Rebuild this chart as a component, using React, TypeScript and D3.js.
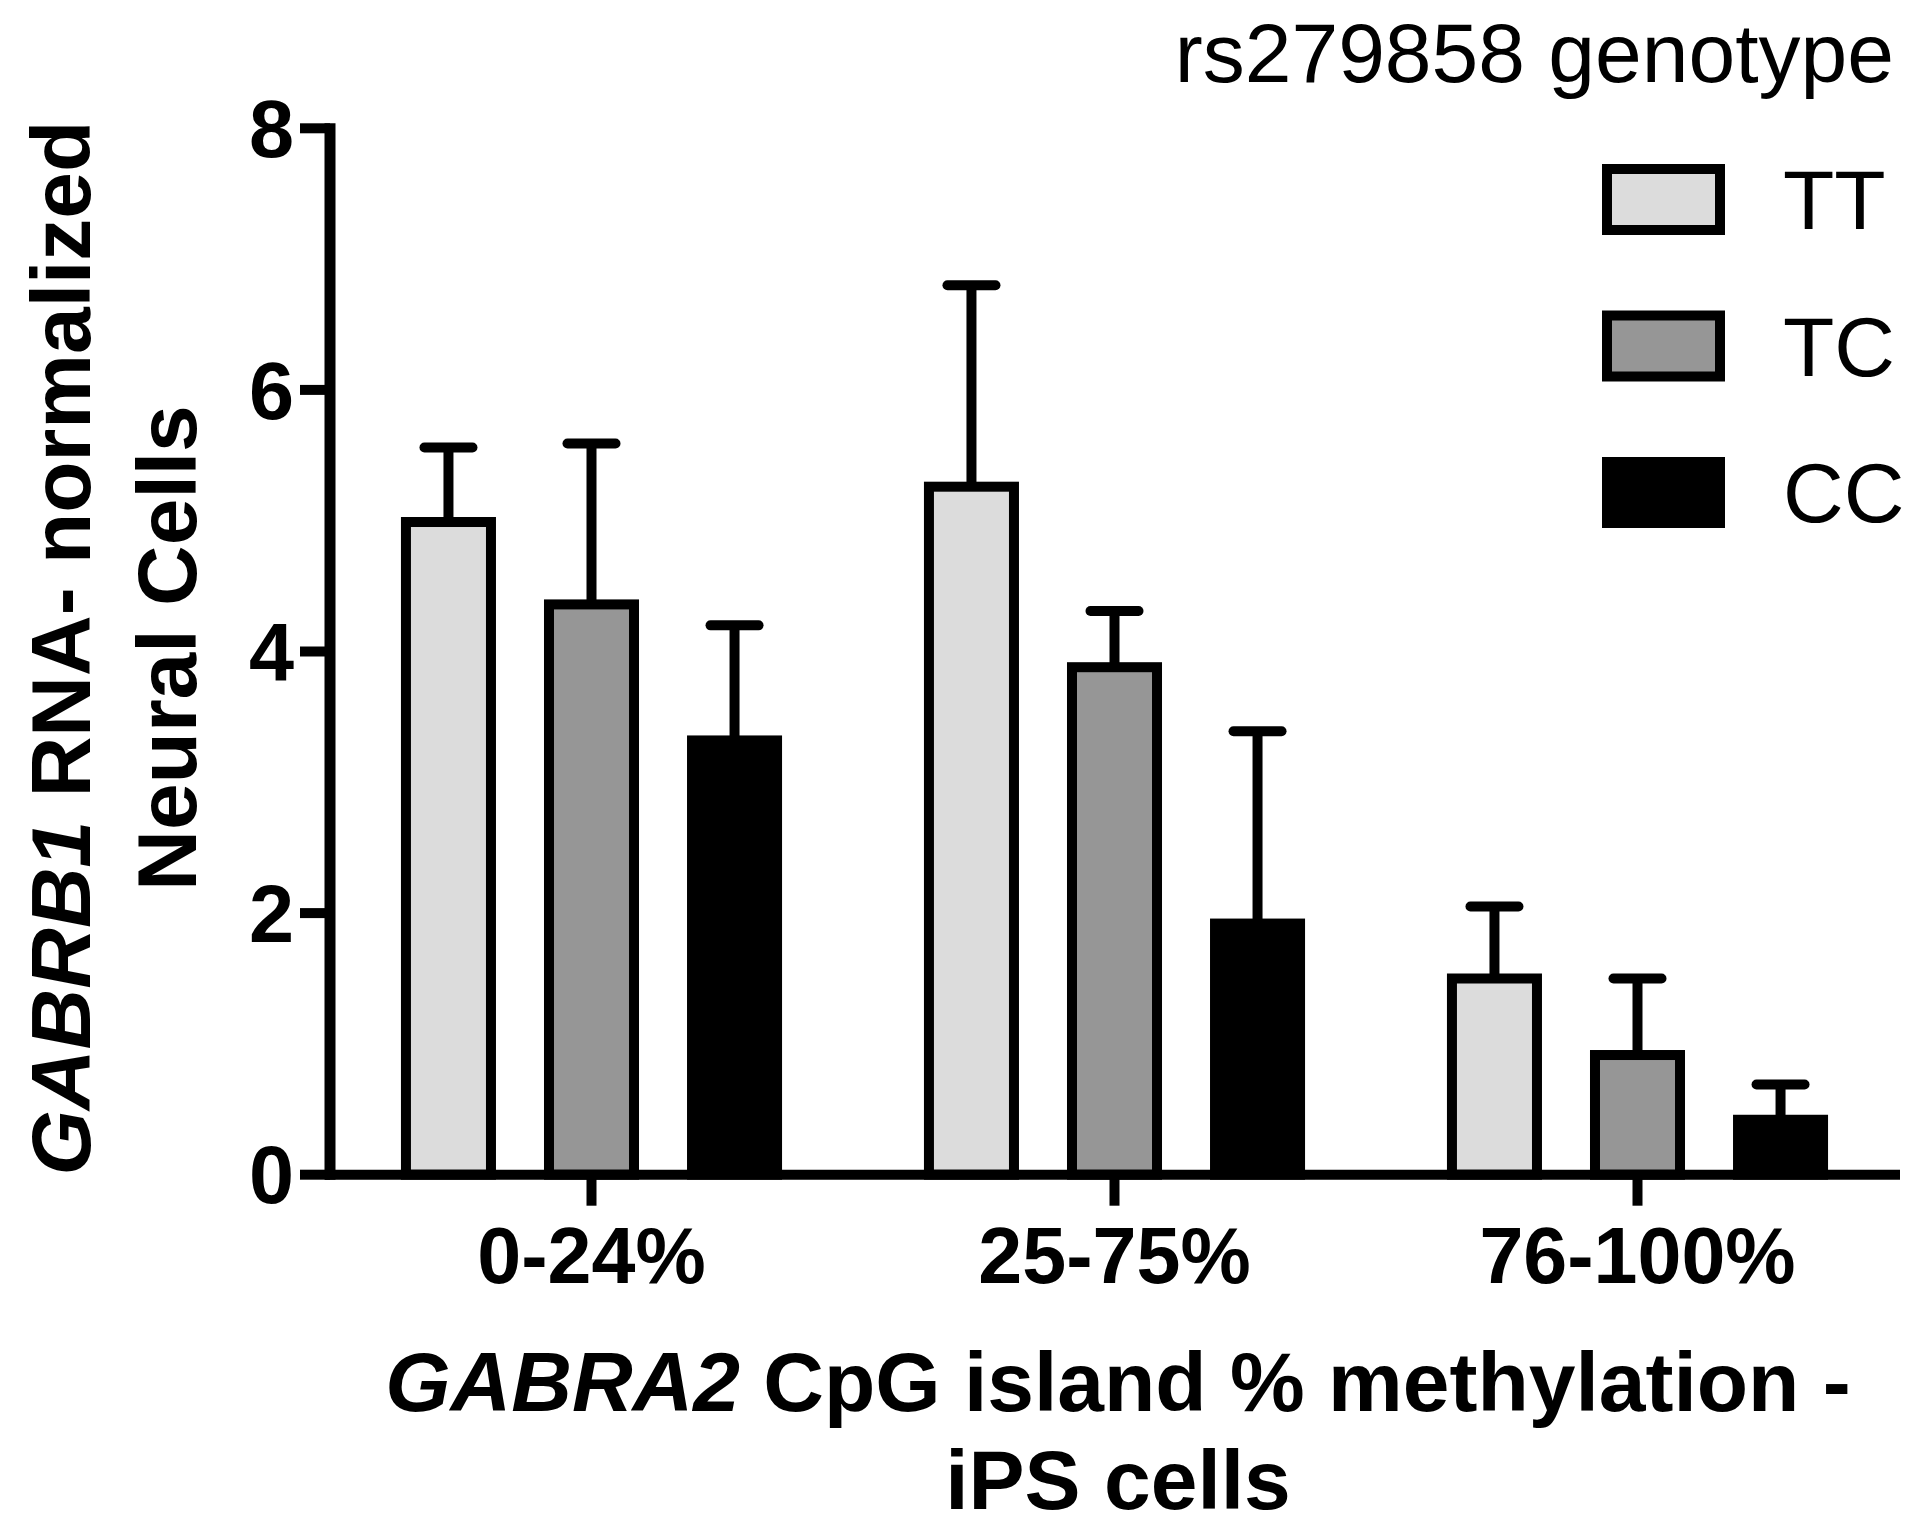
import React from "react";
import * as d3 from "d3";

const categories = ["0-24%", "25-75%", "76-100%"];
const series = ["TT", "TC", "CC"];
const meanTT = [4.99, 5.26, 1.5];
const meanTC = [4.36, 3.88, 0.915];
const meanCC = [3.32, 1.92, 0.42];
const semTT = [0.57, 1.54, 0.55];
const semTC = [1.23, 0.43, 0.585];
const semCC = [0.88, 1.47, 0.27];
const yTicks = [0, 2, 4, 6, 8];
const fills: Record<string, string> = { TT: "#dcdcdc", TC: "#969696", CC: "#000000" };

const W = 1920;
const H = 1526;
const FONT = "'Liberation Sans', Arial, Helvetica, sans-serif";
const SW = 10;

export default function App() {
  const x = d3.scaleBand<string>().domain(categories).range([330, 1899]).padding(0);
  const xs = d3
    .scaleBand<string>()
    .domain(series)
    .range([0, x.bandwidth()])
    .paddingInner(1 - 85 / 143)
    .paddingOuter(0.531);
  const y = d3.scaleLinear().domain([0, 8]).range([1174.7, 128.3]);

  const means: Record<string, number[]> = { TT: meanTT, TC: meanTC, CC: meanCC };
  const sems: Record<string, number[]> = { TT: semTT, TC: semTC, CC: semCC };

  const y0 = y(0);

  return (
    <svg
      width={W}
      height={H}
      viewBox={`0 0 ${W} ${H}`}
      style={{ position: "absolute", left: 0, top: 0, background: "#fff" }}
      fontFamily={FONT}
    >
      <rect x={0} y={0} width={W} height={H} fill="#fff" />
      {/* bars */}
      {categories.map((c, ci) => (
        <g key={c}>
          {series.map((s) => {
            const v = means[s][ci];
            const e = sems[s][ci];
            const bx = (x(c) as number) + (xs(s) as number);
            const bw = xs.bandwidth();
            const cx = bx + bw / 2;
            return (
              <g key={s}>
                <line x1={cx} x2={cx} y1={y(v)} y2={y(v + e)} stroke="#000" strokeWidth={SW} />
                <line
                  x1={cx - 24}
                  x2={cx + 24}
                  y1={y(v + e)}
                  y2={y(v + e)}
                  stroke="#000"
                  strokeWidth={SW}
                  strokeLinecap="round"
                />
                <rect
                  x={bx}
                  y={y(v)}
                  width={bw}
                  height={y0 - y(v)}
                  fill={fills[s]}
                  stroke="#000"
                  strokeWidth={SW}
                />
              </g>
            );
          })}
        </g>
      ))}
      {/* y axis */}
      <line x1={330} x2={330} y1={y(8) - SW / 2} y2={y0 + SW / 2} stroke="#000" strokeWidth={SW + 1} />
      {yTicks.map((t) => (
        <g key={t}>
          <line x1={300} x2={330} y1={y(t)} y2={y(t)} stroke="#000" strokeWidth={SW} />
          <text
            x={294}
            y={y(t)}
            dy="0.355em"
            textAnchor="end"
            fontSize={81}
            fontWeight="bold"
          >
            {t}
          </text>
        </g>
      ))}
      {/* x axis */}
      <line x1={325} x2={1900} y1={y0} y2={y0} stroke="#000" strokeWidth={SW} />
      {categories.map((c) => {
        const cx = (x(c) as number) + x.bandwidth() / 2;
        return (
          <g key={c}>
            <line x1={cx} x2={cx} y1={y0} y2={y0 + 31} stroke="#000" strokeWidth={SW} />
            <text x={cx} y={1283} textAnchor="middle" fontSize={79} fontWeight="bold">
              {c}
            </text>
          </g>
        );
      })}
      {/* y title */}
      <g transform="translate(90,648) rotate(-90)">
        <text x={0} y={0} textAnchor="middle" fontSize={84} fontWeight="bold">
          <tspan fontStyle="italic">GABRB1</tspan>
          <tspan> RNA- normalized</tspan>
        </text>
      </g>
      <g transform="translate(196,648) rotate(-90)">
        <text x={0} y={0} textAnchor="middle" fontSize={84} fontWeight="bold">
          Neural Cells
        </text>
      </g>
      {/* x title */}
      <text x={1118} y={1411} textAnchor="middle" fontSize={84} fontWeight="bold">
        <tspan fontStyle="italic">GABRA2</tspan>
        <tspan> CpG island % methylation -</tspan>
      </text>
      <text x={1118} y={1509} textAnchor="middle" fontSize={84} fontWeight="bold">
        iPS cells
      </text>
      {/* legend */}
      <text x={1894} y={82} textAnchor="end" fontSize={84}>
        rs279858 genotype
      </text>
      {series.map((s, i) => {
        const ly = 169 + i * 146.5;
        return (
          <g key={s}>
            <rect x={1607} y={ly} width={113} height={61} fill={fills[s]} stroke="#000" strokeWidth={SW} />
            <text x={1783} y={ly + 60} fontSize={84}>
              {s}
            </text>
          </g>
        );
      })}
    </svg>
  );
}
